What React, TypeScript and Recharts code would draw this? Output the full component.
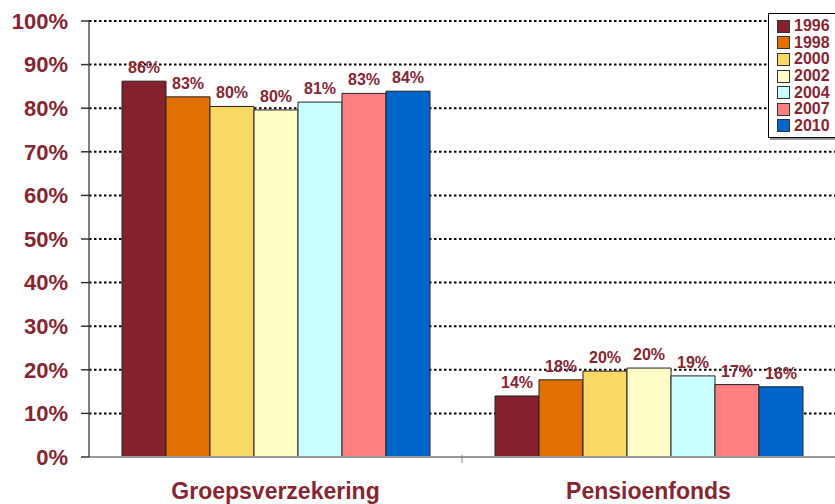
import React from 'react';
import { BarChart, Bar, XAxis, YAxis, CartesianGrid, LabelList } from 'recharts';

const categories = ['Groepsverzekering', 'Pensioenfonds'];
const years = ['1996', '1998', '2000', '2002', '2004', '2007', '2010'];
const groepsverzekering = [86.2, 82.6, 80.4, 79.6, 81.4, 83.4, 83.9];
const pensioenfonds = [14.0, 17.7, 19.7, 20.4, 18.6, 16.6, 16.1];
const yTicks = [0, 10, 20, 30, 40, 50, 60, 70, 80, 90, 100];
const colors = ['#86222F', '#E27000', '#F9D865', '#FFFCC7', '#C9FFFF', '#FF8080', '#0066CC'];

const TEXT = '#862633';
const FONT = '"Liberation Sans", Arial, sans-serif';
const W = 835;
const H = 504;
const LEFT = 89;

const data = categories.map((c, ci) => {
  const row: any = { name: c };
  years.forEach((y, yi) => {
    row['y' + y] = ci === 0 ? groepsverzekering[yi] : pensioenfonds[yi];
  });
  return row;
});

const halfBand = (W - LEFT) / categories.length / 2;

const XTick = (props: any) => {
  const { x, y, payload, index } = props;
  return (
    <g>
      {index > 0 && (
        <line x1={x - halfBand} x2={x - halfBand} y1={y - 10} y2={y - 2} stroke="#888" strokeWidth={1} />
      )}
      <text x={x} y={y + 34} textAnchor="middle" fill={TEXT} fontFamily={FONT} fontWeight="bold" fontSize={23}>
        {payload.value}
      </text>
    </g>
  );
};

const LegendBox = () => (
  <div
    style={{
      position: 'absolute',
      left: 768,
      top: 13,
      background: '#fff',
      border: '1px solid #000',
      boxShadow: '2px 2px 0 #999',
      padding: '4px 0 3px 8px',
      width: 72,
      boxSizing: 'border-box',
    }}
  >
    {years.map((y, i) => (
      <div key={y} style={{ display: 'flex', alignItems: 'center', height: 16.6 }}>
        <span
          style={{
            display: 'inline-block',
            width: 11,
            height: 11,
            background: colors[i],
            border: '1px solid #333',
            marginRight: 4,
            flexShrink: 0,
          }}
        />
        <span style={{ color: TEXT, fontFamily: FONT, fontWeight: 'bold', fontSize: 16, lineHeight: '16px' }}>{y}</span>
      </div>
    ))}
  </div>
);

export default function App() {
  return (
    <div style={{ position: 'absolute', left: 0, top: 0, width: W, height: H, background: '#fff', overflow: 'hidden' }}>
      <BarChart
        width={W}
        height={H}
        data={data}
        margin={{ top: 21, right: 0, left: 0, bottom: 0 }}
        barCategoryGap={33}
        barGap={0}
      >
        <CartesianGrid horizontal vertical={false} stroke="#000" strokeWidth={2} strokeDasharray="2.5 2.5" />
        <XAxis
          dataKey="name"
          height={47}
          axisLine={{ stroke: '#999', strokeWidth: 2 }}
          tickLine={false}
          tick={<XTick />}
          interval={0}
        />
        <YAxis
          domain={[0, 100]}
          ticks={yTicks}
          width={LEFT}
          interval={0}
          tickFormatter={(v: number) => `${v}%`}
          axisLine={{ stroke: '#555', strokeWidth: 1.5 }}
          tickLine={{ stroke: '#333', strokeWidth: 1.5 }}
          tickSize={8}
          tickMargin={13}
          tick={{ fill: TEXT, fontFamily: FONT, fontWeight: 'bold', fontSize: 22 }}
        />
        {years.map((y, i) => (
          <Bar
            key={y}
            dataKey={'y' + y}
            name={y}
            fill={colors[i]}
            stroke="#222"
            strokeWidth={1}
            isAnimationActive={false}
          >
            <LabelList
              dataKey={'y' + y}
              position="top"
              offset={8}
              formatter={(v: number) => `${Math.round(v)}%`}
              style={{ fill: TEXT, fontFamily: FONT, fontWeight: 'bold', fontSize: 16 }}
            />
          </Bar>
        ))}
      </BarChart>
      <LegendBox />
    </div>
  );
}
